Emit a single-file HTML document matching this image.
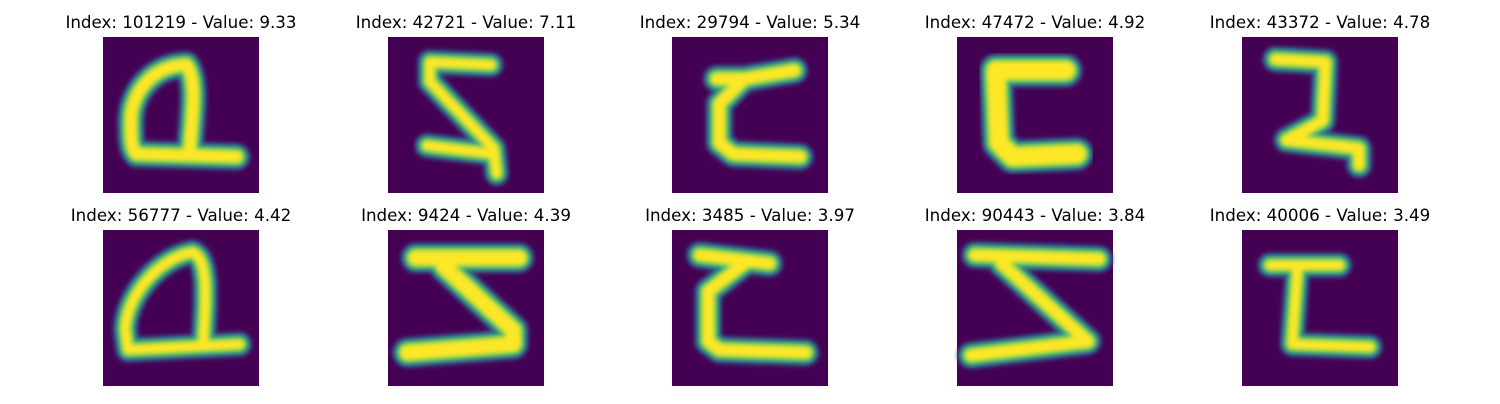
<!DOCTYPE html>
<html><head><meta charset="utf-8">
<style>
html,body{margin:0;padding:0;background:#fff;}
body{width:1500px;height:400px;overflow:hidden;font-family:"DejaVu Sans","Liberation Sans",sans-serif;}
</style></head>
<body>
<svg id="fig" width="1500" height="400" xmlns="http://www.w3.org/2000/svg">
<defs><filter id="bl" x="-20%" y="-20%" width="140%" height="140%"><feGaussianBlur stdDeviation="0.45"/></filter></defs>
</svg>
<script>
const indices = [101219, 42721, 29794, 47472, 43372, 56777, 9424, 3485, 90443, 40006];
const values = [9.33, 7.11, 5.34, 4.92, 4.78, 4.42, 4.39, 3.97, 3.84, 3.49];
const strokes = [
 "M15,5 C9,5 5,10 5,15 C5,18 5,20 6,21 L24,21.5 M15,5 C17,8 16,14 15.5,21",
 "M18.5,5 L7.5,4.5 L7.5,8 L19,20 L19.5,24.5 M7,19.5 L19,21",
 "M22,6 L13,7.5 L8,7.5 M13,7.5 L8.5,12 L8.5,19 L11,21 L23,21.5",
 "M19.5,6 L7,6 L7.5,19 L10,21.5 L21.5,21",
 "M6,4 L15,4.5 L14.5,15 L8,18.5 L21,20 L21,23",
 "M16,4 C10,5 4,12 4,18 L4.5,21.5 L24.5,20.5 M16,4 C19,5 18.5,12 18,20",
 "M5,5 L23.5,5 M10,6.5 L22.5,18 L22.5,20.5 L3.5,22",
 "M5,4.5 L17.5,6 M13,6 L6.5,11 L6.5,20 L8.5,21.5 L24,22",
 "M3.2,4.5 L25.5,5.2 M8,6 L23.5,20 L2.5,22.5",
 "M5,6.3 L17.5,6.3 M10,6.3 L9,20.5 L23,21"
];
const widths = [2.6, 2.2, 2.6, 3.8, 2.4, 2.2, 3.2, 2.6, 2.6, 2.2];
const fig = document.getElementById('fig');
const NS = 'http://www.w3.org/2000/svg';
const colX = [103, 388, 672, 957, 1242];
const rowY = [37, 230];
const size = 156;
for (let i = 0; i < indices.length; i++) {
  const x = colX[i % 5], y = rowY[Math.floor(i / 5)];
  const g = document.createElementNS(NS, 'g');
  
  
  const t = document.createElementNS(NS, 'text');
  
  
  t.setAttribute('x', x + size / 2);
  t.setAttribute('y', y - 9);
  t.setAttribute('text-anchor', 'middle');
  t.setAttribute('font-size', '16.7');
  t.setAttribute('fill', '#000');
  t.textContent = 'Index: ' + indices[i] + ' - Value: ' + values[i].toFixed(2);
  g.appendChild(t);
  const im = document.createElementNS(NS, 'g');
  
  
  im.setAttribute('transform', 'translate(' + x + ',' + y + ') scale(' + (size / 28) + ')');
  const bg = document.createElementNS(NS, 'rect');
  
  
  bg.setAttribute('width', 28); bg.setAttribute('height', 28);
  bg.setAttribute('fill', '#440154');
  im.appendChild(bg);
  const layers = [[widths[i] + 2.2, '#3b528b'], [widths[i] + 1.2, '#21918c'], [widths[i] + 0.4, '#5ec962'], [widths[i] - 0.4, '#fde725']];
  for (const [w, c] of layers) {
    const p = document.createElementNS(NS, 'path');
    
    
    p.setAttribute('d', strokes[i]);
    p.setAttribute('fill', 'none');
    p.setAttribute('stroke', c);
    p.setAttribute('stroke-width', w);
    p.setAttribute('stroke-linecap', 'round');
    p.setAttribute('stroke-linejoin', 'round');
    p.setAttribute('filter', 'url(#bl)');
    im.appendChild(p);
  }
  g.appendChild(im);
  fig.appendChild(g);
}
</script>
</body></html>
